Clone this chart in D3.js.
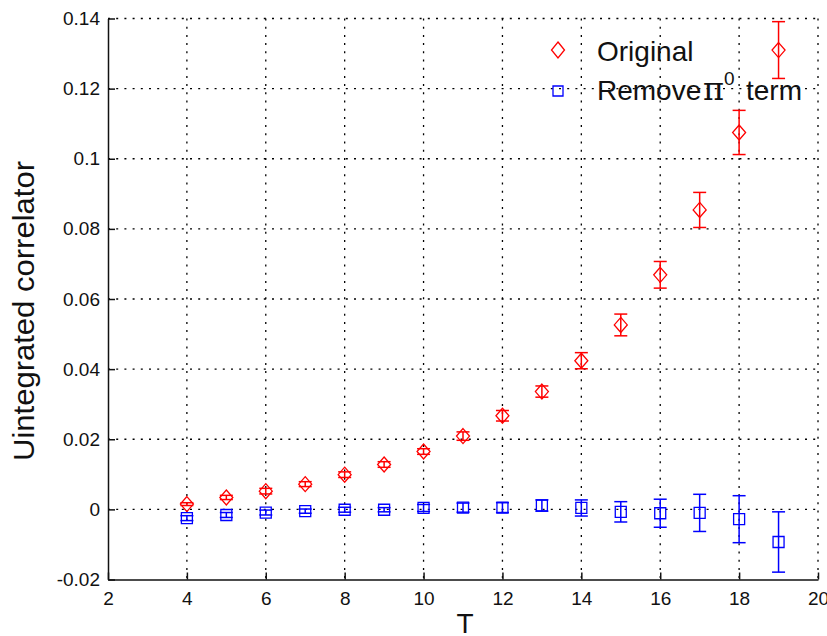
<!DOCTYPE html>
<html>
<head>
<meta charset="utf-8">
<script src="https://cdn.jsdelivr.net/npm/d3@7/dist/d3.min.js"></script>
<style>
  html, body { margin: 0; padding: 0; background: #fff; }
  svg { display: block; }
  text { font-family: "Liberation Sans", Arial, Helvetica, sans-serif; fill: #111; }
</style>
</head>
<body>
<script>
// Time separations T
const T = [4, 5, 6, 7, 8, 9, 10, 11, 12, 13, 14, 15, 16, 17, 18, 19];

// Original correlator and its errors
const original    = [0.0015, 0.0034, 0.0052, 0.0072, 0.0099, 0.0128, 0.0165, 0.0209,
                     0.0267, 0.0336, 0.0424, 0.0526, 0.0669, 0.0854, 0.1075, 0.1310];
const originalErr = [0.0004, 0.0006, 0.0008, 0.0007, 0.0008, 0.0008, 0.0008, 0.0012,
                     0.0015, 0.0016, 0.0023, 0.0031, 0.0038, 0.0050, 0.0063, 0.0081];

// Correlator with the pi0 term removed and its errors
const removed     = [-0.0025, -0.0016, -0.0009, -0.0005, -0.0001, -0.0001, 0.0004, 0.0005,
                      0.0005, 0.0011, 0.0004, -0.0007, -0.0011, -0.0010, -0.0028, -0.0093];
const removedErr  = [0.0007, 0.0007, 0.0007, 0.0006, 0.0007, 0.0006, 0.0010, 0.0013,
                     0.0014, 0.0016, 0.0023, 0.0029, 0.0040, 0.0053, 0.0067, 0.0086];

// Axis ticks and labels
const xTicks = [2, 4, 6, 8, 10, 12, 14, 16, 18, 20];
const yTicks = [-0.02, 0, 0.02, 0.04, 0.06, 0.08, 0.1, 0.12, 0.14];
const yTickLabels = ["-0.02", "0", "0.02", "0.04", "0.06", "0.08", "0.1", "0.12", "0.14"];

const W = 827, H = 636;
const svg = d3.select("body").append("svg").attr("width", W).attr("height", H);
svg.append("rect").attr("width", W).attr("height", H).attr("fill", "#fff");

const x = d3.scaleLinear().domain([2, 20]).range([108, 818]);
const y = d3.scaleLinear().domain([-0.02, 0.14]).range([579.5, 18.5]);

// Dotted grid
const grid = svg.append("g").attr("stroke", "#000").attr("stroke-width", 1.3)
  .attr("stroke-dasharray", "2,6.2").attr("fill", "none");
grid.selectAll("line.v").data(xTicks.slice(1)).join("line")
  .attr("x1", d => x(d)).attr("x2", d => x(d))
  .attr("y1", y(0.14)).attr("y2", y(-0.02));
grid.selectAll("line.h").data(yTicks.slice(1)).join("line")
  .attr("x1", x(2)).attr("x2", x(20))
  .attr("y1", d => y(d)).attr("y2", d => y(d));

// Axes with inward ticks
const fontSize = 19;
const yAxis = d3.axisLeft(y).tickValues(yTicks)
  .tickFormat((d, i) => yTickLabels[i]).tickSize(-7).tickSizeOuter(0).tickPadding(8);
const xAxis = d3.axisBottom(x).tickValues(xTicks)
  .tickFormat(d => String(d)).tickSize(-7).tickSizeOuter(0).tickPadding(12);

const gy = svg.append("g").attr("transform", `translate(${x(2)},0)`).call(yAxis);
const gx = svg.append("g").attr("transform", `translate(0,${y(-0.02)})`).call(xAxis);
[gx, gy].forEach(g => {
  g.selectAll("path.domain").attr("stroke", "#111").attr("stroke-width", 1.5);
  g.selectAll(".tick line").attr("stroke", "#111").attr("stroke-width", 1.5);
  g.selectAll(".tick text").attr("font-size", fontSize).attr("fill", "#111")
    .style("font-family", '"Liberation Sans", Arial, sans-serif');
});

// Axis titles
svg.append("text").attr("x", 465).attr("y", 633).attr("text-anchor", "middle")
  .attr("font-size", 28).text("T");
svg.append("text").attr("transform", "translate(34,311) rotate(-90)")
  .attr("text-anchor", "middle").attr("font-size", 30)
  .attr("textLength", 300).attr("lengthAdjust", "spacingAndGlyphs")
  .text("Uintegrated correlator");

// Marker shapes
const diamond = (hw, hh) => `M0,${-hh}L${hw},0L0,${hh}L${-hw},0Z`;
const square = s => `M${-s},${-s}H${s}V${s}H${-s}Z`;

function drawSeries(vals, errs, color, markerPath) {
  const g = svg.append("g").attr("stroke", color).attr("fill", "none").attr("stroke-width", 1.5);
  const pts = T.map((t, i) => ({ t, v: vals[i], e: errs[i] }));
  const cap = 6.5;
  const eb = g.selectAll("g.eb").data(pts).join("g");
  eb.append("line").attr("x1", d => x(d.t)).attr("x2", d => x(d.t))
    .attr("y1", d => y(d.v - d.e)).attr("y2", d => y(d.v + d.e));
  eb.append("line").attr("x1", d => x(d.t) - cap).attr("x2", d => x(d.t) + cap)
    .attr("y1", d => y(d.v + d.e)).attr("y2", d => y(d.v + d.e));
  eb.append("line").attr("x1", d => x(d.t) - cap).attr("x2", d => x(d.t) + cap)
    .attr("y1", d => y(d.v - d.e)).attr("y2", d => y(d.v - d.e));
  g.selectAll("path.m").data(pts).join("path")
    .attr("transform", d => `translate(${x(d.t)},${y(d.v)})`)
    .attr("d", markerPath).attr("stroke-width", 1.3);
}

drawSeries(original, originalErr, "#ff0000", diamond(6.5, 7.5));
drawSeries(removed, removedErr, "#0000ff", square(5.5));

// Legend
const leg = svg.append("g");
leg.append("path").attr("transform", "translate(558,50)").attr("d", diamond(6.5, 8))
  .attr("fill", "none").attr("stroke", "#ff0000").attr("stroke-width", 1.3);
leg.append("path").attr("transform", "translate(558,91)").attr("d", square(5))
  .attr("fill", "none").attr("stroke", "#0000ff").attr("stroke-width", 1.3);
leg.append("text").attr("x", 597).attr("y", 61).attr("font-size", 28).text("Original");
const t2 = leg.append("text").attr("y", 100).attr("font-size", 28);
t2.append("tspan").attr("x", 597).text("Remove");
t2.append("tspan").attr("x", 703).attr("font-size", 32)
  .style("font-family", '"DejaVu Serif", "Liberation Serif", serif').text("π");
t2.append("tspan").attr("x", 724).attr("y", 85).attr("font-size", 19).text("0");
t2.append("tspan").attr("x", 746).attr("y", 100).text("term");
</script>
</body>
</html>
